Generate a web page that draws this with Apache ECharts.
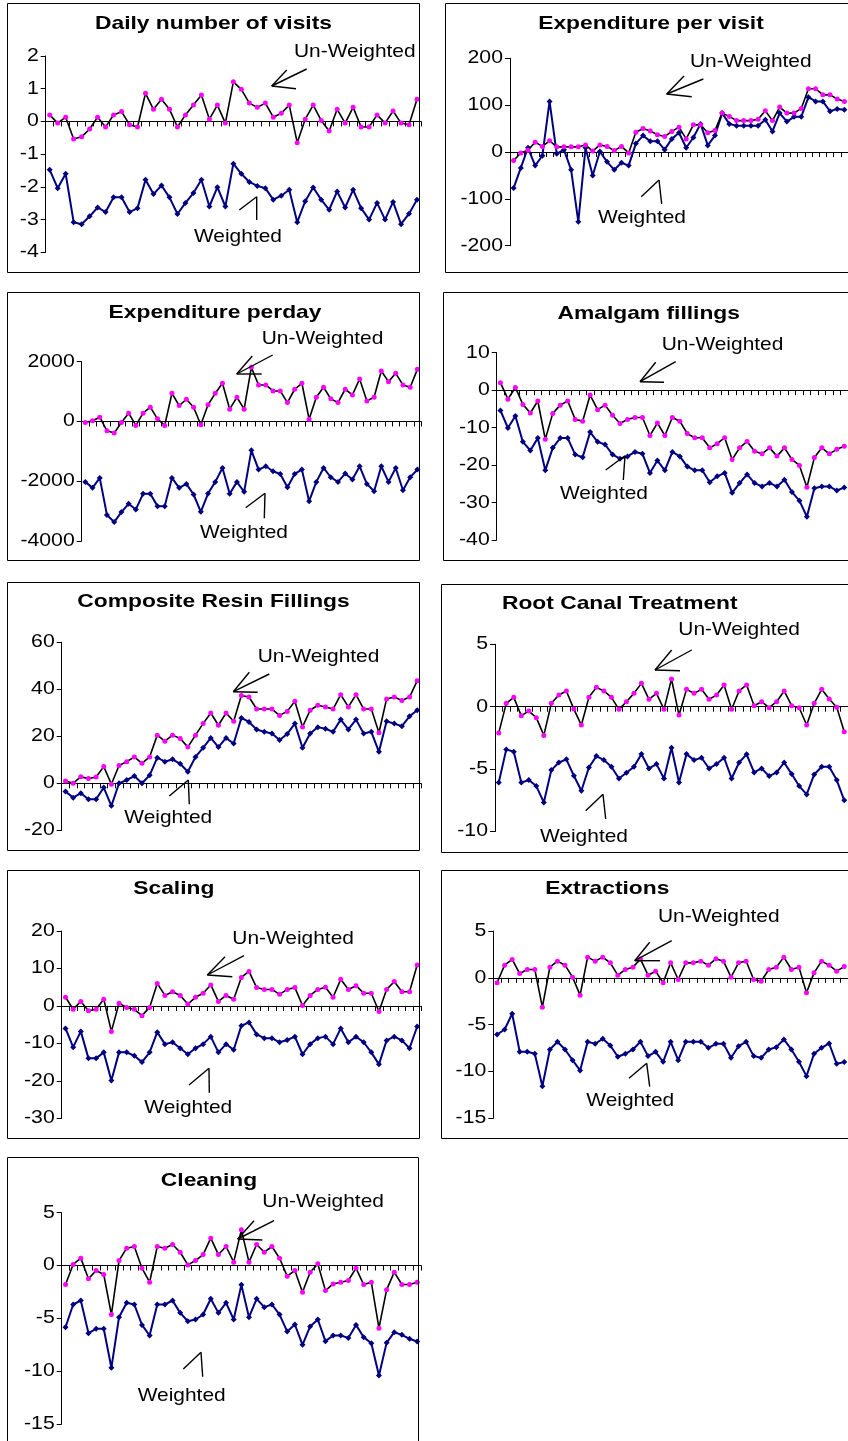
<!DOCTYPE html>
<html>
<head>
<meta charset="utf-8">
<script src="https://cdn.jsdelivr.net/npm/echarts@6/dist/echarts.min.js"></script>
<style>
  html, body { margin: 0; padding: 0; background: #fff; }
  #chart { width: 848px; height: 1441px; }
</style>
</head>
<body>
<div id="chart"></div>
<script>
// Period index shared by every panel (x axis categories, unlabeled)
const periods = [1,2,3,4,5,6,7,8,9,10,11,12,13,14,15,16,17,18,19,20,21,22,23,24,25,26,27,28,29,30,31,32,33,34,35,36,37,38,39,40,41,42,43,44,45,46,47];

const panelTitles = [
  'Daily number of visits', 'Expenditure per visit',
  'Expenditure perday', 'Amalgam fillings',
  'Composite Resin Fillings', 'Root Canal Treatment',
  'Scaling', 'Extractions',
  'Cleaning'
];

const unweightedLabel = 'Un-Weighted';
const weightedLabel = 'Weighted';

// Y tick labels per panel
const visitsTicks = [-4, -3, -2, -1, 0, 1, 2];
const perVisitTicks = [-200, -100, 0, 100, 200];
const perDayTicks = [-4000, -2000, 0, 2000];
const amalgamTicks = [-40, -30, -20, -10, 0, 10];
const compositeTicks = [-20, 0, 20, 40, 60];
const rootCanalTicks = [-10, -5, 0, 5];
const scalingTicks = [-30, -20, -10, 0, 10, 20];
const extractionsTicks = [-15, -10, -5, 0, 5];
const cleaningTicks = [-15, -10, -5, 0, 5];

// Series values
const visitsUnweighted = [0.20,-0.05,0.13,-0.54,-0.47,-0.23,0.13,-0.17,0.20,0.30,-0.10,-0.17,0.86,0.37,0.68,0.37,-0.17,0.20,0.50,0.81,0.07,0.50,-0.05,1.21,0.98,0.56,0.43,0.56,0.13,0.25,0.50,-0.65,0.07,0.50,0.03,-0.29,0.37,-0.05,0.43,-0.17,-0.17,0.20,-0.05,0.32,-0.05,-0.10,0.68];
const visitsWeighted = [-1.48,-2.04,-1.60,-3.08,-3.14,-2.90,-2.63,-2.77,-2.32,-2.32,-2.77,-2.65,-1.78,-2.22,-1.96,-2.32,-2.83,-2.49,-2.19,-1.78,-2.60,-2.01,-2.60,-1.29,-1.60,-1.85,-1.97,-2.04,-2.39,-2.27,-2.09,-3.08,-2.44,-2.02,-2.39,-2.70,-2.14,-2.63,-2.09,-2.65,-3.00,-2.49,-3.00,-2.46,-3.14,-2.82,-2.39];

const perVisitUnweighted = [-18,-2,4,21,12,24,11,11,11,11,15,2,15,12,3,12,-2,42,50,45,37,33,44,53,28,58,58,41,46,83,76,67,67,67,70,88,67,96,83,83,93,135,135,122,122,113,108];
const perVisitWeighted = [-77,-34,9,-29,-8,108,-4,5,-38,-149,9,-50,1,-21,-38,-23,-29,18,35,23,23,5,28,41,9,31,60,14,35,83,60,56,56,56,56,69,44,83,65,75,75,117,108,108,87,92,90];

const perDayUnweighted = [-33,22,144,-311,-389,-33,278,-133,278,478,89,-133,944,533,744,478,-111,556,944,1278,411,811,411,1811,1222,1222,1022,1022,633,1078,1278,78,811,1144,756,633,1078,889,1422,689,811,1689,1333,1611,1222,1144,1744];
const perDayWeighted = [-2022,-2222,-1889,-3133,-3367,-3033,-2756,-2944,-2422,-2422,-2833,-2833,-1889,-2222,-2089,-2444,-3022,-2411,-2022,-1556,-2422,-2022,-2356,-967,-1611,-1500,-1667,-1756,-2200,-1756,-1611,-2667,-2022,-1556,-1867,-2022,-1744,-1944,-1500,-2089,-2333,-1500,-2022,-1556,-2300,-1867,-1611];

const amalgamUnweighted = [2.0,-2.4,0.7,-3.8,-6.1,-2.9,-13.1,-6.2,-4.0,-2.9,-7.8,-8.3,-1.3,-5.2,-4.0,-6.7,-8.9,-7.8,-7.3,-7.3,-12.1,-8.8,-12.1,-7.3,-8.3,-11.6,-12.7,-12.7,-15.4,-14.3,-12.7,-18.5,-15.4,-13.7,-16.3,-17.0,-15.4,-17.6,-15.4,-18.5,-20.1,-25.9,-18.0,-15.4,-17.0,-15.8,-15.0];
const amalgamWeighted = [-5.4,-10.1,-6.9,-13.8,-16.1,-12.8,-21.4,-15.4,-12.8,-12.8,-17.2,-17.9,-11.2,-13.8,-14.5,-17.2,-18.3,-17.7,-16.5,-17.0,-22.1,-18.8,-21.4,-16.5,-17.7,-20.4,-21.4,-21.4,-24.6,-23.0,-22.1,-27.4,-24.8,-22.5,-24.8,-25.7,-24.8,-25.7,-23.9,-27.2,-29.5,-33.8,-26.2,-25.7,-25.7,-26.8,-26.0];

const compositeUnweighted = [1.0,0,2.8,2.0,2.7,7.1,-0.4,7.6,9.2,11.2,8.5,11.2,20.5,17.9,20.5,19.1,15.4,20.5,25.4,29.9,24.7,29.9,26.4,37.4,36.7,31.6,31.6,31.6,28.9,30.6,34.9,24.0,31.1,33.2,32.5,31.6,37.7,32.5,37.7,31.6,31.6,21.5,35.9,36.7,35.2,36.7,43.6];
const compositeWeighted = [-3.5,-6.1,-4.2,-6.8,-6.8,-1.8,-9.6,0,1.4,3.1,0,3.4,10.9,9.2,10.2,8.3,4.9,11.2,15.1,19.3,15.4,19.3,16.9,27.8,26.1,22.9,21.9,21.2,18.4,21.0,25.4,15.1,21.2,23.9,23.2,21.9,27.1,22.9,27.1,21.2,21.9,13.4,26.4,25.4,24.3,28.5,31.1];

const rootCanalUnweighted = [-2.1,0.27,0.75,-0.72,-0.35,-0.88,-2.3,0.27,0.94,1.26,-0.19,-1.47,0.75,1.55,1.26,0.75,-0.21,0.4,1.07,1.87,0.59,1.07,-0.21,2.22,-0.67,1.39,1.07,1.39,0.59,0.94,1.74,-0.21,1.26,1.74,0.08,0.4,-0.08,0.4,1.26,0.08,-0.08,-1.47,0.27,1.39,0.62,-0.05,-2.0];
const rootCanalWeighted = [-6.07,-3.42,-3.61,-6.07,-5.88,-6.36,-7.67,-5.08,-4.47,-4.22,-5.53,-6.74,-4.87,-3.96,-4.28,-4.81,-5.75,-5.29,-4.81,-3.80,-4.95,-4.60,-5.75,-3.29,-6.07,-3.80,-4.28,-4.09,-4.95,-4.60,-4.09,-5.75,-4.47,-3.82,-5.27,-4.95,-5.56,-5.27,-4.47,-5.40,-6.36,-7.03,-5.43,-4.81,-4.81,-5.88,-7.5];

const scalingUnweighted = [2.3,-0.9,1.2,-1.3,-0.9,1.8,-6.8,0.7,-0.4,-0.9,-2.6,-0.4,6.0,2.8,3.8,2.8,0.5,2.3,3.4,5.6,1.2,2.8,1.8,7.6,9.2,4.9,4.4,4.4,3.1,4.4,4.9,0.1,2.8,4.4,5.0,2.3,7.1,4.4,5.4,3.4,3.4,-1.5,4.4,6.5,3.8,3.8,10.9];
const scalingWeighted = [-6.0,-11.0,-6.8,-14.0,-14.0,-12.4,-19.9,-12.4,-12.4,-13.3,-15.0,-12.4,-7.0,-10.2,-9.7,-11.3,-12.9,-11.3,-10.2,-8.2,-12.4,-10.2,-11.7,-5.3,-4.4,-7.6,-8.6,-8.6,-9.7,-9.1,-8.2,-12.9,-10.2,-8.6,-8.2,-10.2,-6.0,-9.7,-8.2,-9.7,-12.4,-15.6,-9.2,-8.2,-9.2,-11.3,-5.5];

const extractionsUnweighted = [-0.53,1.35,1.96,0.46,0.89,0.89,-3.13,1.14,1.78,1.35,0.07,-1.85,2.21,1.78,2.21,1.60,0.28,0.89,1.14,2.0,0.28,0.71,-0.53,1.60,-0.18,1.60,1.60,1.78,1.35,2.03,1.78,0.07,1.60,1.78,-0.18,-0.36,0.89,1.14,2.21,0.89,1.14,-1.60,0.53,1.78,1.35,0.71,1.2];
const extractionsWeighted = [-6.05,-5.52,-3.84,-7.90,-7.90,-8.11,-11.57,-7.65,-6.83,-7.65,-8.79,-9.89,-6.83,-7.05,-6.51,-7.22,-8.43,-8.11,-7.65,-6.83,-8.36,-7.90,-8.97,-6.83,-8.79,-6.83,-6.83,-6.83,-7.47,-7.05,-7.05,-8.54,-7.30,-6.83,-8.36,-8.54,-7.65,-7.40,-6.58,-7.65,-8.97,-10.50,-8.11,-7.47,-7.01,-9.18,-9.0];

const cleaningUnweighted = [-1.8,0.1,0.7,-1.26,-0.47,-0.85,-4.64,0.47,1.64,1.80,-0.25,-1.58,1.80,1.64,1.99,1.26,0.06,0.47,1.04,2.59,1.04,1.80,0.32,3.38,0.32,1.99,1.26,1.80,0.69,-1.01,-0.47,-2.52,-0.63,0.16,-2.37,-1.74,-1.58,-1.42,-0.25,-1.80,-1.58,-5.93,-2.30,-0.63,-1.80,-1.80,-1.58];
const cleaningWeighted = [-5.84,-3.69,-3.31,-6.40,-5.99,-5.99,-9.68,-4.89,-3.53,-3.69,-5.62,-6.62,-3.69,-3.69,-3.31,-4.48,-5.27,-5.11,-4.64,-3.15,-4.48,-3.53,-5.11,-1.83,-4.89,-3.15,-3.94,-3.69,-4.64,-6.25,-5.58,-7.51,-5.77,-5.11,-7.16,-6.62,-6.62,-6.85,-5.62,-6.78,-7.35,-10.41,-7.32,-6.31,-6.56,-6.94,-7.19];

const panelData = [
  { ticks: visitsTicks,      unweighted: visitsUnweighted,      weighted: visitsWeighted },
  { ticks: perVisitTicks,    unweighted: perVisitUnweighted,    weighted: perVisitWeighted },
  { ticks: perDayTicks,      unweighted: perDayUnweighted,      weighted: perDayWeighted },
  { ticks: amalgamTicks,     unweighted: amalgamUnweighted,     weighted: amalgamWeighted },
  { ticks: compositeTicks,   unweighted: compositeUnweighted,   weighted: compositeWeighted },
  { ticks: rootCanalTicks,   unweighted: rootCanalUnweighted,   weighted: rootCanalWeighted },
  { ticks: scalingTicks,     unweighted: scalingUnweighted,     weighted: scalingWeighted },
  { ticks: extractionsTicks, unweighted: extractionsUnweighted, weighted: extractionsWeighted },
  { ticks: cleaningTicks,    unweighted: cleaningUnweighted,    weighted: cleaningWeighted }
];

// ---- Layout (pixels) ----
// box: panel frame; plot: grid rectangle; title: centre of title text;
// un/w: label anchor (left, middle) and arrow (tip + stroke ends)
const layout = [
  { box: [7, 3, 412, 269], plot: [45.7, 56, 375.3, 196.3], title: [213.5, 23.7],
    un: { label: [294, 51.7], tip: [271.7, 86], ends: [[306.7, 69], [286.7, 70], [296, 88.7]] },
    w:  { label: [194, 236.7], tip: [256.7, 196.7], ends: [[256.7, 220], [239.3, 210]] } },
  { box: [445, 3, 412, 269], plot: [510, 58.3, 348, 187.4], title: [651, 24],
    un: { label: [690, 62.3], tip: [666.7, 94], ends: [[703.3, 79], [684, 76], [691.7, 96.7]] },
    w:  { label: [598, 218.3], tip: [659, 180], ends: [[661.7, 204], [641.3, 196.7]] } },
  { box: [7, 292, 412, 268], plot: [81.7, 361.7, 339.3, 179.3], title: [215, 312.7],
    un: { label: [261.7, 339], tip: [236.7, 374], ends: [[272.7, 355], [252.3, 356], [261.7, 374]] },
    w:  { label: [200, 533.3], tip: [265, 493.3], ends: [[264.3, 518.3], [245.7, 507.7]] } },
  { box: [443, 292, 412, 268], plot: [496.7, 352.7, 361.3, 187.3], title: [648.7, 313.3],
    un: { label: [661.7, 345], tip: [640, 381.7], ends: [[675.7, 361.7], [655.7, 362.3], [664, 382.3]] },
    w:  { label: [560, 494.3], tip: [625, 455.7], ends: [[623.3, 480], [605.7, 470]] } },
  { box: [7, 582, 412, 268], plot: [61.7, 642.3, 359.3, 188], title: [213.5, 601.7],
    un: { label: [257.7, 656.7], tip: [233.3, 691.7], ends: [[269.3, 674], [249.3, 672.3], [257.7, 692.3]] },
    w:  { label: [124.3, 818.3], tip: [188.3, 780], ends: [[189.3, 804.3], [169.3, 796]] } },
  { box: [441, 584, 412, 268], plot: [495, 644.3, 363, 187.2], title: [619.8, 603.7],
    un: { label: [678.3, 630], tip: [655, 670], ends: [[691.7, 650], [671.7, 650], [680, 670.7]] },
    w:  { label: [540, 836.7], tip: [603, 794.3], ends: [[605.7, 819], [585.7, 810.7]] } },
  { box: [7, 870, 412, 268], plot: [61.7, 931, 359.3, 187.3], title: [173.8, 889],
    un: { label: [232.3, 939], tip: [207.3, 975], ends: [[244, 955.7], [225, 956.7], [232.3, 976.7]] },
    w:  { label: [144.3, 1108.3], tip: [209, 1068.3], ends: [[209.3, 1092.7], [189, 1085]] } },
  { box: [441, 870, 412, 268], plot: [493.3, 931, 364.7, 187.3], title: [607.3, 889],
    un: { label: [658, 916.7], tip: [634.7, 960.7], ends: [[671.7, 940.7], [649.7, 942.3], [660, 960.7]] },
    w:  { label: [586.3, 1101], tip: [646.7, 1063.3], ends: [[649.7, 1086.7], [629, 1078.3]] } },
  { box: [7, 1157, 411, 300], plot: [61.7, 1212.7, 359.3, 211.3], title: [209, 1180.3],
    un: { label: [262.3, 1201.7], tip: [237.7, 1239], ends: [[274, 1220.7], [254, 1220.7], [262.3, 1240]] },
    w:  { label: [137.7, 1395.7], tip: [201, 1352.3], ends: [[202.7, 1376.7], [183.3, 1369]] } }
];

const FONT = '"Liberation Sans", Arial, Helvetica, sans-serif';
const UNWEIGHTED_LINE = '#000000';
const UNWEIGHTED_DOT = '#FF00FF';
const WEIGHTED_COLOR = '#000080';
const TEXT_STRETCH = 1.18;   // glyphs in this figure are drawn slightly wide

const grids = [], xAxes = [], yAxes = [], series = [], graphics = [];

panelData.forEach((pd, i) => {
  const L = layout[i];
  const t = pd.ticks;
  grids.push({ left: L.plot[0], top: L.plot[1], width: L.plot[2], height: L.plot[3], containLabel: false });
  xAxes.push({
    type: 'category', gridIndex: i, data: periods, boundaryGap: true,
    axisLine: { show: true, onZero: true, lineStyle: { color: '#000', width: 1 } },
    axisTick: { show: true, interval: 0, length: 5, inside: false, lineStyle: { color: '#000', width: 1 } },
    axisLabel: { show: false }, splitLine: { show: false }
  });
  yAxes.push({
    type: 'value', gridIndex: i,
    min: t[0], max: t[t.length - 1], interval: t[1] - t[0],
    axisLine: { show: true, lineStyle: { color: '#000', width: 1 } },
    axisTick: { show: true, length: 5, inside: false, lineStyle: { color: '#000', width: 1 } },
    axisLabel: { show: false },   // drawn below as stretched text at the axis' own tick positions
    splitLine: { show: false }
  });
  series.push({
    type: 'line', xAxisIndex: i, yAxisIndex: i, data: pd.weighted,
    symbol: 'diamond', symbolSize: 6, showSymbol: true, showAllSymbol: true,
    lineStyle: { color: WEIGHTED_COLOR, width: 2 },
    itemStyle: { color: WEIGHTED_COLOR },
    silent: true, animation: false, z: 2
  });
  series.push({
    type: 'line', xAxisIndex: i, yAxisIndex: i, data: pd.unweighted,
    symbol: 'circle', symbolSize: 5, showSymbol: true, showAllSymbol: true,
    lineStyle: { color: UNWEIGHTED_LINE, width: 1.6 },
    itemStyle: { color: UNWEIGHTED_DOT },
    silent: true, animation: false, z: 3
  });

  // panel frame
  graphics.push({
    type: 'rect', silent: true, z: 10,
    shape: { x: Math.round(L.box[0]) + 0.5, y: Math.round(L.box[1]) + 0.5, width: L.box[2], height: L.box[3] },
    style: { fill: null, stroke: '#000', lineWidth: 1 }
  });
  // title
  graphics.push({
    type: 'text', silent: true, z: 10, x: L.title[0], y: L.title[1], scaleX: 1.2,
    style: { text: panelTitles[i], fill: '#000', font: 'bold 19px ' + FONT,
             textAlign: 'center', textVerticalAlign: 'middle', align: 'center', verticalAlign: 'middle' }
  });
  // series labels with arrows
  [[L.un, unweightedLabel], [L.w, weightedLabel]].forEach(([a, txt]) => {
    graphics.push({
      type: 'text', silent: true, z: 10, x: a.label[0], y: a.label[1], scaleX: 1.13,
      style: { text: txt, fill: '#000', font: '18.5px ' + FONT,
               textAlign: 'left', textVerticalAlign: 'middle', align: 'left', verticalAlign: 'middle' }
    });
    a.ends.forEach(e => {
      graphics.push({
        type: 'polyline', silent: true, z: 10,
        shape: { points: [e, a.tip] },
        style: { stroke: '#000', lineWidth: 1.4, fill: null }
      });
    });
  });
});

const chart = echarts.init(document.getElementById('chart'), null, { renderer: 'canvas' });
chart.setOption({
  animation: false,
  backgroundColor: '#ffffff',
  grid: grids,
  xAxis: xAxes,
  yAxis: yAxes,
  series: series,
  graphic: { elements: graphics }
});

// Y tick labels, placed from each value axis' scale
const tickLabels = [];
panelData.forEach((pd, i) => {
  const L = layout[i];
  pd.ticks.forEach(v => {
    const y = chart.convertToPixel({ yAxisIndex: i }, v);
    tickLabels.push({
      type: 'text', silent: true, z: 10, x: L.plot[0] - 7, y: y, scaleX: TEXT_STRETCH,
      style: { text: String(v), fill: '#000', font: '18px ' + FONT,
               textAlign: 'right', textVerticalAlign: 'middle', align: 'right', verticalAlign: 'middle' }
    });
  });
});
chart.setOption({ graphic: { elements: graphics.concat(tickLabels) } });
</script>
</body>
</html>
